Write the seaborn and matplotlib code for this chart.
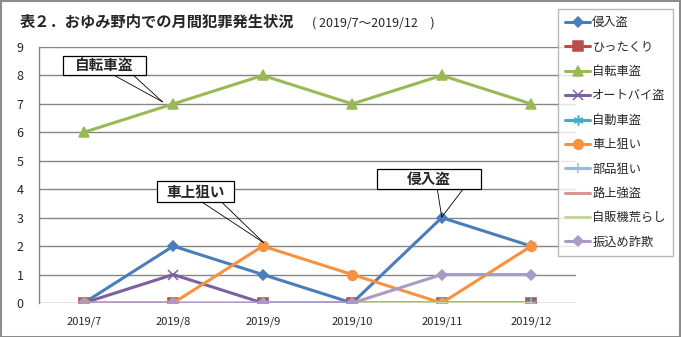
import numpy as np
import pandas as pd
import matplotlib
matplotlib.use("Agg")
import matplotlib.pyplot as plt
from matplotlib.patches import Rectangle
import seaborn as sns

months = ["2019/7", "2019/8", "2019/9", "2019/10", "2019/11", "2019/12"]
series_names = ["侵入盗", "ひったくり", "自転車盗", "オートバイ盗", "自動車盗",
                "車上狙い", "部品狙い", "路上強盗", "自販機荒らし", "振込め詐欺"]
shinnyu = [0, 2, 1, 0, 3, 2]
hittakuri = [0, 0, 0, 0, 0, 0]
jitensha = [6, 7, 8, 7, 8, 7]
autobai = [0, 1, 0, 0, 0, 0]
jidousha = [0, 0, 0, 0, 0, 0]
shajou = [0, 0, 2, 1, 0, 2]
buhin = [0, 0, 0, 0, 0, 0]
rojou = [0, 0, 0, 0, 0, 0]
jihanki = [0, 0, 0, 0, 0, 0]
furikome = [0, 0, 0, 0, 1, 1]
values = [shinnyu, hittakuri, jitensha, autobai, jidousha,
          shajou, buhin, rojou, jihanki, furikome]

colors = ["#4A7EBB", "#BE4B48", "#98B954", "#7D60A0", "#46AAC5",
          "#F69240", "#97B9E0", "#D99694", "#C3D69B", "#A99BC6"]
markers = ["D", "s", "^", "x", (6, 2, 0), "o", "+", None, None, "D"]
msizes = [5, 6.5, 6.5, 7, 7, 7, 7, 0, 0, 5]

sns.set_theme(style="white")
plt.rcParams["font.family"] = ["Noto Sans CJK JP", "DejaVu Sans"]

W, H = 681, 337
fig = plt.figure(figsize=(W / 100, H / 100), dpi=100)
fig.patch.set_facecolor("white")
ax = fig.add_axes([39 / W, 34 / H, (576 - 39) / W, (303 - 47) / H])

x = np.arange(len(months))
for name, vals, c, m, ms in zip(series_names, values, colors, markers, msizes):
    df = pd.DataFrame({"month": x, "count": vals})
    kw = dict(color=c, linewidth=2.2, label=name, ax=ax)
    if m is not None:
        kw.update(marker=m, markersize=ms, markeredgecolor=c, markerfacecolor=c,
                  markeredgewidth=1.1)
    sns.lineplot(data=df, x="month", y="count", **kw)

ax.set_xlim(-0.5, len(months) - 0.5)
ax.set_ylim(0, 9)
ax.set_yticks(range(0, 10))
ax.set_xticks(x)
ax.set_xticklabels(months, fontsize=8)
ax.set_xticks(np.arange(-0.5, len(months), 1.0), minor=True)
ax.tick_params(axis="x", which="major", length=0, pad=10)
ax.tick_params(axis="x", which="minor", length=5, color="#868686", width=1, direction="out")
ax.tick_params(axis="y", length=5, color="#868686", width=1, direction="out", labelsize=9, pad=6)
ax.set_xlabel("")
ax.set_ylabel("")
ax.grid(axis="y", color="#868686", linewidth=1)
ax.set_axisbelow(True)
for s in ["top", "right", "bottom"]:
    ax.spines[s].set_visible(False)
ax.spines["left"].set_color("#868686")
ax.spines["left"].set_linewidth(1)
ax.spines["left"].set_zorder(0.5)

# callouts (box extents in data units, wedge lines to the labelled point)
def callout(text, x0, x1, y0, y1, starts, end):
    ax.add_patch(Rectangle((x0, y0), x1 - x0, y1 - y0, facecolor="white",
                           edgecolor="black", linewidth=0.9, zorder=6, clip_on=False))
    ax.text((x0 + x1) / 2, (y0 + y1) / 2, text, ha="center", va="center",
            fontsize=10.5, fontweight="bold", zorder=7)
    for s in starts:
        ax.annotate("", xy=end, xytext=s, xycoords="data", textcoords="data",
                    arrowprops=dict(arrowstyle="-", color="black", lw=0.6,
                                    shrinkA=0, shrinkB=0), zorder=5)

callout("自転車盗", -0.232, 0.694, 8.02, 8.68, [(0.33, 8.02), (0.55, 8.02)], (0.88, 7.07))
callout("車上狙い", 0.817, 1.677, 3.55, 4.29, [(1.32, 3.55), (1.54, 3.55)], (2.01, 2.12))
callout("侵入盗", 3.272, 4.44, 4.01, 4.71, [(3.95, 4.01), (4.24, 4.01)], (4.0, 3.02))

# legend
leg = fig.legend(*ax.get_legend_handles_labels(), loc="upper left",
                 bbox_to_anchor=(558 / W, 1 - 9 / H), frameon=True, fontsize=8.8,
                 handlelength=2.0, labelspacing=0.93, borderpad=0.6,
                 handletextpad=0.2, borderaxespad=0, fancybox=False)
leg.get_frame().set_edgecolor("#A6A6A6")
leg.get_frame().set_linewidth(1)
if ax.get_legend() is not None:
    ax.get_legend().remove()

# title
fig.text(20 / W, 1 - 22 / H, "表２．おゆみ野内での月間犯罪発生状況", fontsize=11,
         fontweight="bold", ha="left", va="center")
fig.text(312 / W, 1 - 23 / H, "( 2019/7～2019/12　)", fontsize=9,
         ha="left", va="center")

# outer border
fig.patches.append(Rectangle((0.5 / W, 0.5 / H), 1 - 1.5 / W, 1 - 1.5 / H,
                             transform=fig.transFigure, fill=False,
                             edgecolor="#8C8C8C", linewidth=1.5))

fig.savefig("out.png", dpi=100)
